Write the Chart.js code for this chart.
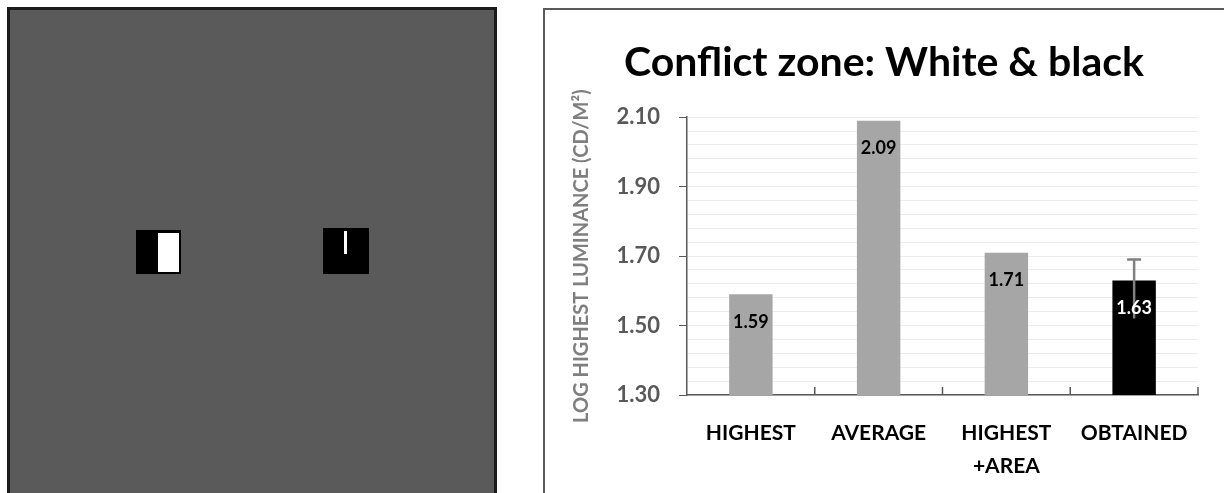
<!DOCTYPE html>
<html>
<head>
<meta charset="utf-8">
<script src="https://cdn.jsdelivr.net/npm/chart.js@4"></script>
<style>
  body { margin: 0; width: 1224px; height: 493px; background: #fff; overflow: hidden; position: relative; font-family: Lato, sans-serif; }
  #stim { position: absolute; left: 7px; top: 7px; width: 490px; height: 500px; background: #5a5a5a; border: 3px solid #1c1c1c; box-sizing: border-box; }
  .sq { position: absolute; background: #000; }
  .wh { position: absolute; background: #fff; }
  #panel { position: absolute; left: 543px; top: 8px; width: 700px; height: 500px; border-left: 2px solid #5a5a5a; border-top: 2px solid #5a5a5a; }
  #wrap { position: absolute; left: 545px; top: 10px; width: 679px; height: 483px; }
</style>
</head>
<body>
<!-- stimulus panel -->
<div id="stim">
  <div class="sq" style="left:126px;top:220px;width:45px;height:44px;">
    <div class="wh" style="left:22px;top:3px;width:21px;height:39px;"></div>
  </div>
  <div class="sq" style="left:313px;top:218px;width:46px;height:46px;">
    <div class="wh" style="left:21px;top:3px;width:3px;height:23px;"></div>
  </div>
</div>
<div id="panel"></div>
<div id="wrap"><canvas id="chart"></canvas></div>
<script>
// values
const categories = [["HIGHEST"], ["AVERAGE"], ["HIGHEST", "+AREA"], ["OBTAINED"]];
const luminance = [1.59, 2.09, 1.71, 1.63];
const errPlus = [0, 0, 0, 0.06];
const errMinus = [0, 0, 0, 0.11];
const barColors = ["#a6a6a6", "#a6a6a6", "#a6a6a6", "#000000"];
const labelColors = ["#000000", "#000000", "#000000", "#ffffff"];
const yMin = 1.3, yMax = 2.1;

// small tick marks between categories on the x axis
const catTicks = {
  id: "catTicks",
  afterDatasetsDraw(chart) {
    const { ctx, scales: { x, y } } = chart;
    const base = y.getPixelForValue(yMin);
    ctx.save();
    ctx.strokeStyle = "#595959";
    ctx.lineWidth = 1.5;
    for (let i = 0; i < categories.length; i++) {
      const edge = (x.getPixelForTick(i) + (i < categories.length - 1 ? x.getPixelForTick(i + 1) : 2 * x.getPixelForTick(i) - x.getPixelForTick(i - 1))) / 2;
      ctx.beginPath();
      ctx.moveTo(edge, base);
      ctx.lineTo(edge, base - 8);
      ctx.stroke();
    }
    ctx.restore();
  }
};

// error bar and value labels
const barExtras = {
  id: "barExtras",
  afterDatasetsDraw(chart) {
    const { ctx, scales: { y } } = chart;
    const meta = chart.getDatasetMeta(0);
    ctx.save();
    meta.data.forEach((bar, i) => {
      if (errPlus[i] || errMinus[i]) {
        const top = y.getPixelForValue(luminance[i] + errPlus[i]);
        const bot = y.getPixelForValue(luminance[i] - errMinus[i]);
        ctx.strokeStyle = "#808080";
        ctx.lineWidth = 2.5;
        ctx.beginPath();
        ctx.moveTo(bar.x, bot);
        ctx.lineTo(bar.x, top);
        ctx.moveTo(bar.x - 7, top);
        ctx.lineTo(bar.x + 7, top);
        ctx.stroke();
      }
      ctx.fillStyle = labelColors[i];
      ctx.font = "bold 18px Lato";
      ctx.textAlign = "center";
      ctx.textBaseline = "middle";
      ctx.fillText(luminance[i].toFixed(2), bar.x, bar.y + 28);
    });
    ctx.restore();
  }
};

new Chart(document.getElementById("chart"), {
  type: "bar",
  data: {
    labels: categories,
    datasets: [{
      data: luminance,
      backgroundColor: barColors,
      borderWidth: 0,
      categoryPercentage: 1,
      barPercentage: 0.34
    }]
  },
  options: {
    responsive: true,
    maintainAspectRatio: false,
    animation: false,
    layout: { padding: { left: 25, right: 26, top: 0, bottom: 0 } },
    plugins: {
      legend: { display: false },
      tooltip: { enabled: false },
      title: {
        display: true,
        text: "Conflict zone: White & black",
        color: "#000",
        font: { family: "Lato", size: 41, weight: "bold", lineHeight: 1.2 },
        padding: { top: 28, bottom: 30 }
      }
    },
    scales: {
      x: {
        grid: { display: false },
        border: { color: "#595959", width: 1.5 },
        ticks: {
          color: "#000",
          font: { family: "Lato", size: 21, weight: "bold", lineHeight: 1.55 },
          padding: 14,
          maxRotation: 0
        },
        afterFit(scale) { scale.height = 98; }
      },
      y: {
        min: yMin,
        max: yMax,
        border: { color: "#595959", width: 1.5 },
        grid: {
          color: "#ececec",
          tickLength: 8,
          tickColor: c => (Math.round(c.tick.value * 100) % 20 === 10 ? "#595959" : "rgba(0,0,0,0)")
        },
        ticks: {
          stepSize: 0.04,
          autoSkip: false,
          padding: 19,
          color: "#595959",
          font: { family: "Lato", size: 22, weight: "bold" },
          callback: v => (Math.round(v * 100) % 20 === 10 ? v.toFixed(2) : "")
        },
        title: {
          display: true,
          text: "LOG HIGHEST LUMINANCE (CD/M²)",
          color: "#7f7f7f",
          font: { family: "Lato", size: 20, weight: "bold" },
          padding: 0
        },
        afterFit(scale) { scale.width = 117; }
      }
    }
  },
  plugins: [catTicks, barExtras]
});
</script>
</body>
</html>
